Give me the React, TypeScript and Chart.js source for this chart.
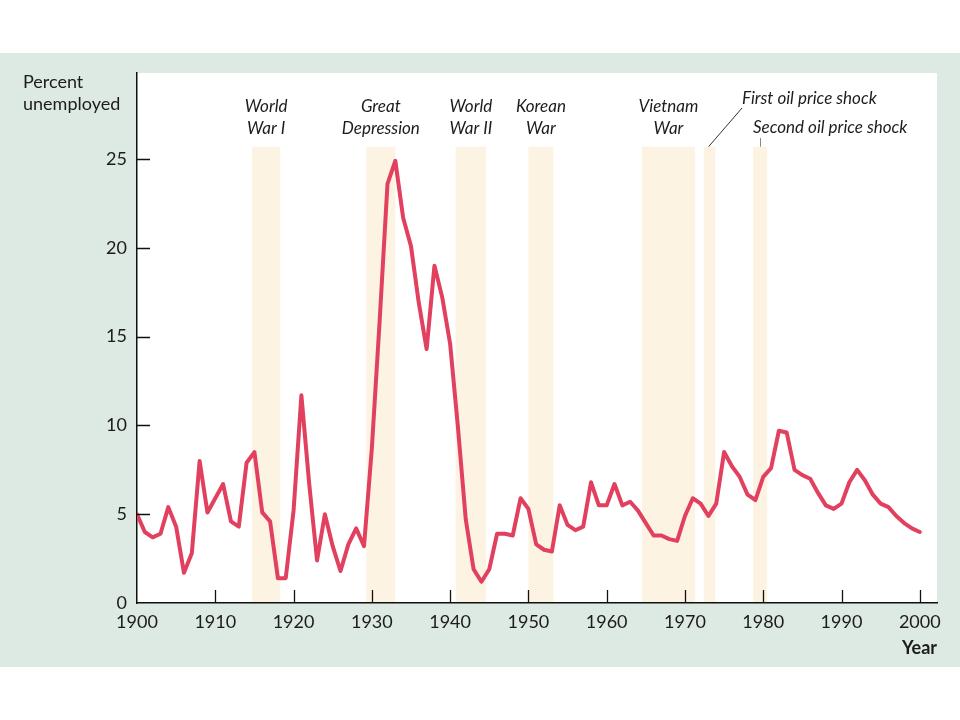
import React, { useEffect, useRef } from 'react';
import { Chart, registerables } from 'chart.js';

Chart.register(...registerables);

const years = [
  1900, 1901, 1902, 1903, 1904, 1905, 1906, 1907, 1908, 1909,
  1910, 1911, 1912, 1913, 1914, 1915, 1916, 1917, 1918, 1919,
  1920, 1921, 1922, 1923, 1924, 1925, 1926, 1927, 1928, 1929,
  1930, 1931, 1932, 1933, 1934, 1935, 1936, 1937, 1938, 1939,
  1940, 1941, 1942, 1943, 1944, 1945, 1946, 1947, 1948, 1949,
  1950, 1951, 1952, 1953, 1954, 1955, 1956, 1957, 1958, 1959,
  1960, 1961, 1962, 1963, 1964, 1965, 1966, 1967, 1968, 1969,
  1970, 1971, 1972, 1973, 1974, 1975, 1976, 1977, 1978, 1979,
  1980, 1981, 1982, 1983, 1984, 1985, 1986, 1987, 1988, 1989,
  1990, 1991, 1992, 1993, 1994, 1995, 1996, 1997, 1998, 1999,
  2000,
];

const unemployment = [
  5.0, 4.0, 3.7, 3.9, 5.4, 4.3, 1.7, 2.8, 8.0, 5.1,
  5.9, 6.7, 4.6, 4.3, 7.9, 8.5, 5.1, 4.6, 1.4, 1.4,
  5.2, 11.7, 6.7, 2.4, 5.0, 3.2, 1.8, 3.3, 4.2, 3.2,
  8.7, 15.9, 23.6, 24.9, 21.7, 20.1, 16.9, 14.3, 19.0, 17.2,
  14.6, 9.9, 4.7, 1.9, 1.2, 1.9, 3.9, 3.9, 3.8, 5.9,
  5.3, 3.3, 3.0, 2.9, 5.5, 4.4, 4.1, 4.3, 6.8, 5.5,
  5.5, 6.7, 5.5, 5.7, 5.2, 4.5, 3.8, 3.8, 3.6, 3.5,
  4.9, 5.9, 5.6, 4.9, 5.6, 8.5, 7.7, 7.1, 6.1, 5.8,
  7.1, 7.6, 9.7, 9.6, 7.5, 7.2, 7.0, 6.2, 5.5, 5.3,
  5.6, 6.8, 7.5, 6.9, 6.1, 5.6, 5.4, 4.9, 4.5, 4.2,
  4.0,
];

const xTicks = [1900, 1910, 1920, 1930, 1940, 1950, 1960, 1970, 1980, 1990, 2000];
const yTicks = [0, 5, 10, 15, 20, 25];

const bandStart = [1914.7, 1929.3, 1940.7, 1950.0, 1964.5, 1972.4, 1978.7];
const bandEnd = [1918.3, 1933.0, 1944.6, 1953.2, 1971.3, 1973.9, 1980.5];
const bandLabels = [
  ['World', 'War I'],
  ['Great', 'Depression'],
  ['World', 'War II'],
  ['Korean', 'War'],
  ['Vietnam', 'War'],
  [],
  [],
];
const oilLabels = ['First oil price shock', 'Second oil price shock'];
const yAxisTitle = ['Percent', 'unemployed'];
const xAxisTitle = 'Year';

const X_MIN = 1900;
const X_MAX = 2002.2;
const Y_MIN = 0;
const Y_MAX = 29.85;
const BAND_TOP = 25.7;

const FONT = 'Lato, "Open Sans", "DejaVu Sans", sans-serif';
const TEXT = '#1c1c1c';

export default function App() {
  const ref = useRef<HTMLCanvasElement>(null);

  useEffect(() => {
    const canvas = ref.current;
    if (!canvas) return;

    const decor = {
      id: 'decor',
      beforeDraw(chart: any) {
        const { ctx, chartArea } = chart;
        const xs = chart.scales.x;
        const ys = chart.scales.y;
        ctx.save();
        ctx.fillStyle = '#ffffff';
        ctx.fillRect(0, 0, chart.width, chart.height);
        ctx.fillStyle = '#dde9e3';
        ctx.fillRect(0, 53, chart.width, 614);
        ctx.fillStyle = '#ffffff';
        ctx.fillRect(chartArea.left, chartArea.top, chartArea.right - chartArea.left, chartArea.bottom - chartArea.top);
        // shaded event bands
        ctx.fillStyle = '#fdf3e2';
        const top = ys.getPixelForValue(BAND_TOP);
        const bottom = ys.getPixelForValue(0);
        for (let i = 0; i < bandStart.length; i++) {
          const x0 = xs.getPixelForValue(bandStart[i]);
          const x1 = xs.getPixelForValue(bandEnd[i]);
          ctx.fillRect(x0, top, x1 - x0, bottom - top);
        }
        ctx.restore();
      },
      afterDraw(chart: any) {
        const { ctx, chartArea } = chart;
        const xs = chart.scales.x;
        const ys = chart.scales.y;
        ctx.save();
        // inward tick marks
        ctx.strokeStyle = '#111';
        ctx.lineWidth = 1.3;
        ctx.beginPath();
        for (const t of xTicks) {
          if (t === X_MIN) continue;
          const px = Math.round(xs.getPixelForValue(t)) + 0.5;
          ctx.moveTo(px, chartArea.bottom);
          ctx.lineTo(px, chartArea.bottom - 13);
        }
        for (const t of yTicks) {
          if (t === Y_MIN) continue;
          const py = Math.round(ys.getPixelForValue(t)) + 0.5;
          ctx.moveTo(chartArea.left, py);
          ctx.lineTo(chartArea.left + 13, py);
        }
        ctx.stroke();

        // y axis title
        ctx.fillStyle = TEXT;
        ctx.font = `18px ${FONT}`;
        ctx.textAlign = 'left';
        ctx.textBaseline = 'alphabetic';
        ctx.fillText(yAxisTitle[0], 23, 88);
        ctx.fillText(yAxisTitle[1], 23, 110);

        // band labels
        ctx.font = `italic 17px ${FONT}`;
        ctx.textAlign = 'center';
        for (let i = 0; i < bandLabels.length; i++) {
          const lines = bandLabels[i];
          if (!lines.length) continue;
          const cx = (xs.getPixelForValue(bandStart[i]) + xs.getPixelForValue(bandEnd[i])) / 2;
          ctx.fillText(lines[0], cx, 112);
          ctx.fillText(lines[1], cx, 134);
        }

        // oil shock labels
        const bandTopPx = ys.getPixelForValue(BAND_TOP);
        const c1 = (xs.getPixelForValue(bandStart[5]) + xs.getPixelForValue(bandEnd[5])) / 2;
        const c2 = (xs.getPixelForValue(bandStart[6]) + xs.getPixelForValue(bandEnd[6])) / 2;
        ctx.textAlign = 'left';
        ctx.fillText(oilLabels[0], 742, 104);
        ctx.fillText(oilLabels[1], 753, 133);

        ctx.strokeStyle = '#333';
        ctx.lineWidth = 1;
        ctx.beginPath();
        ctx.moveTo(c1 - 1, bandTopPx);
        ctx.lineTo(742, 108);
        ctx.stroke();
        ctx.strokeStyle = '#888';
        ctx.beginPath();
        ctx.moveTo(Math.round(c2) + 0.5, bandTopPx);
        ctx.lineTo(Math.round(c2) + 0.5, 138);
        ctx.stroke();
        ctx.restore();
      },
    };

    const chart = new Chart(canvas, {
      type: 'line',
      data: {
        datasets: [
          {
            label: 'Unemployment rate',
            data: years.map((yr, i) => ({ x: yr, y: unemployment[i] })),
            borderColor: '#e2405f',
            borderWidth: 4,
            pointRadius: 0,
            tension: 0,
            borderJoinStyle: 'round',
            borderCapStyle: 'round',
            fill: false,
          },
        ],
      },
      options: {
        responsive: false,
        animation: false,
        events: [],
        layout: { padding: { left: 0, right: 23, top: 73, bottom: 0 } },
        plugins: {
          legend: { display: false },
          tooltip: { enabled: false },
        },
        scales: {
          x: {
            type: 'linear',
            min: X_MIN,
            max: X_MAX,
            afterBuildTicks: (s: any) => {
              s.ticks = xTicks.map((v) => ({ value: v }));
            },
            afterFit: (s: any) => {
              s.height = 117;
            },
            grid: { display: false, drawTicks: false },
            border: { display: true, color: '#111', width: 1.5 },
            ticks: {
              autoSkip: false,
              maxRotation: 0,
              padding: 8,
              color: TEXT,
              font: { family: FONT, size: 18 },
              callback: (v: any) => String(v),
            },
            title: {
              display: true,
              text: xAxisTitle,
              align: 'end',
              color: TEXT,
              font: { family: FONT, size: 18, weight: 'bold' },
              padding: { top: 0, bottom: 61 },
            },
          },
          y: {
            type: 'linear',
            min: Y_MIN,
            max: Y_MAX,
            afterBuildTicks: (s: any) => {
              s.ticks = yTicks.map((v) => ({ value: v }));
            },
            afterFit: (s: any) => {
              s.width = 137;
            },
            grid: { display: false, drawTicks: false },
            border: { display: true, color: '#111', width: 1.5 },
            ticks: {
              padding: 10,
              color: TEXT,
              font: { family: FONT, size: 18 },
              callback: (v: any) => String(v),
            },
          },
        },
      },
      plugins: [decor],
    } as any);

    return () => chart.destroy();
  }, []);

  return (
    <div style={{ position: 'absolute', left: 0, top: 0, width: 960, height: 720 }}>
      <canvas ref={ref} width={960} height={720} style={{ display: 'block', width: 960, height: 720 }} />
    </div>
  );
}
